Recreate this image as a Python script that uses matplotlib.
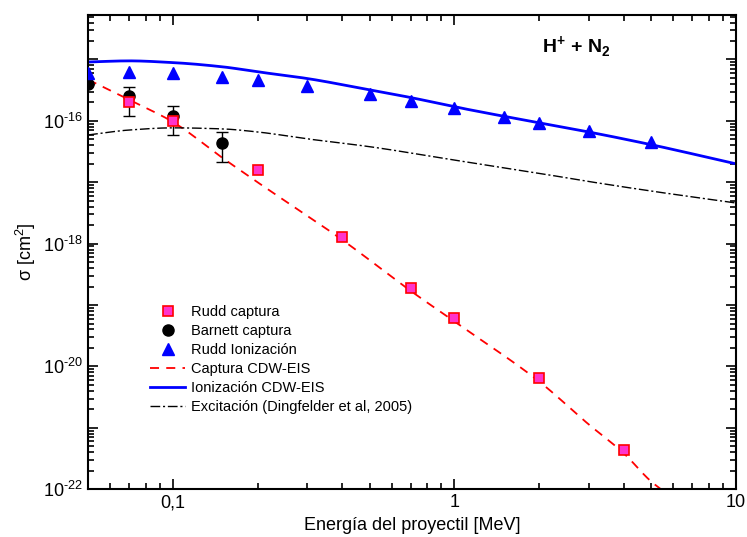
import numpy as np
import matplotlib
matplotlib.use("Agg")
import matplotlib.pyplot as plt
from matplotlib.lines import Line2D
from matplotlib.ticker import FixedLocator, FuncFormatter, LogLocator, NullFormatter

plt.rcParams["font.family"] = ["Liberation Sans", "DejaVu Sans"]
plt.rcParams["mathtext.fontset"] = "custom"
plt.rcParams["mathtext.rm"] = "Liberation Sans"
plt.rcParams["mathtext.bf"] = "Liberation Sans:bold"
plt.rcParams["axes.unicode_minus"] = False

# Rudd captura (squares)
rudd_cap_E = [0.07, 0.1, 0.2, 0.4, 0.7, 1.0, 2.0, 4.0]
rudd_cap_s = [2.0e-16, 1.0e-16, 1.6e-17, 1.28e-18, 1.9e-19, 6.2e-20, 6.6e-21, 4.3e-22]

# Barnett captura (circles, with error bars)
barn_E = [0.05, 0.07, 0.1, 0.15]
barn_s = [4.0e-16, 2.5e-16, 1.2e-16, 4.4e-17]
barn_lo = [4.0e-16, 1.2e-16, 5.9e-17, 2.1e-17]
barn_hi = [4.0e-16, 3.6e-16, 1.76e-16, 6.6e-17]

# Rudd ionizacion (triangles)
rudd_ion_E = [0.05, 0.07, 0.1, 0.15, 0.2, 0.3, 0.5, 0.7, 1.0, 1.5, 2.0, 3.0, 5.0]
rudd_ion_s = [6.0e-16, 6.3e-16, 6.0e-16, 5.2e-16, 4.66e-16, 3.7e-16, 2.76e-16,
              2.12e-16, 1.63e-16, 1.16e-16, 9.3e-17, 6.9e-17, 4.6e-17]

# Captura CDW-EIS
cap_E = [0.05, 0.07, 0.1, 0.15, 0.2, 0.4, 0.7, 1.0, 2.0, 3.0, 4.0, 5.0, 5.5]
cap_s = [4.7e-16, 2.2e-16, 9.6e-17, 2.5e-17, 1.0e-17, 1.15e-18, 1.7e-19,
         5.4e-20, 5.7e-21, 1.14e-21, 3.84e-22, 1.34e-22, 9.5e-23]

# Ionizacion CDW-EIS
ion_E = [0.05, 0.07, 0.1, 0.15, 0.2, 0.3, 0.5, 0.7, 1.0, 2.0, 3.0, 5.0, 10.0]
ion_s = [9.1e-16, 9.5e-16, 8.9e-16, 7.6e-16, 6.3e-16, 4.9e-16, 3.2e-16,
         2.4e-16, 1.7e-16, 9.3e-17, 6.6e-17, 4.1e-17, 2.0e-17]

# Excitacion (Dingfelder et al, 2005)
exc_E = [0.05, 0.07, 0.1, 0.15, 0.2, 0.3, 0.5, 1.0, 2.0, 3.0, 5.0, 10.0]
exc_s = [5.9e-17, 7.1e-17, 7.7e-17, 7.4e-17, 6.6e-17, 5.1e-17, 3.8e-17,
         2.3e-17, 1.4e-17, 1.03e-17, 7.2e-18, 4.6e-18]


def smooth(x, y, n=300):
    # monotone cubic (pchip-style) through the read-off points, log-log space
    lx = np.log10(x)
    ly = np.log10(y)
    h = np.diff(lx)
    m = np.diff(ly) / h
    d = np.zeros_like(lx)
    for k in range(1, len(lx) - 1):
        if m[k - 1] * m[k] > 0:
            w1 = 2 * h[k] + h[k - 1]
            w2 = h[k] + 2 * h[k - 1]
            d[k] = (w1 + w2) / (w1 / m[k - 1] + w2 / m[k])
    d[0] = m[0]
    d[-1] = m[-1]
    xs = np.linspace(lx[0], lx[-1], n)
    out = np.empty_like(xs)
    for i, xv in enumerate(xs):
        k = min(np.searchsorted(lx, xv, side="right") - 1, len(lx) - 2)
        t = (xv - lx[k]) / h[k]
        h00 = 2 * t**3 - 3 * t**2 + 1
        h10 = t**3 - 2 * t**2 + t
        h01 = -2 * t**3 + 3 * t**2
        h11 = t**3 - t**2
        out[i] = h00 * ly[k] + h10 * h[k] * d[k] + h01 * ly[k + 1] + h11 * h[k] * d[k + 1]
    return 10**xs, 10**out


fig, ax = plt.subplots(figsize=(7.47, 5.37), dpi=100)
fig.subplots_adjust(left=0.118, right=0.985, top=0.972, bottom=0.089)

sq_style = dict(marker="s", ms=7, mfc="#ff33cc", mec="red", mew=1.2, ls="none")
ci_style = dict(marker="o", ms=8, color="black", ls="none")
tr_style = dict(marker="^", ms=8, color="blue", ls="none")

ax.plot(rudd_cap_E, rudd_cap_s, zorder=5, **sq_style)
yerr = [np.array(barn_s) - np.array(barn_lo), np.array(barn_hi) - np.array(barn_s)]
ax.errorbar(barn_E, barn_s, yerr=yerr, fmt="none", ecolor="black",
            elinewidth=1, capsize=4, capthick=1, zorder=3)
ax.plot(barn_E, barn_s, zorder=4, **ci_style)
ax.plot(rudd_ion_E, rudd_ion_s, zorder=5, **tr_style)

cap_ls = (0, (5, 4))
exc_ls = (0, (7, 2, 1.5, 2))
x, y = smooth(cap_E, cap_s)
ax.plot(x, y, color="red", ls=cap_ls, lw=1.3)
x, y = smooth(ion_E, ion_s)
ax.plot(x, y, color="blue", lw=2)
x, y = smooth(exc_E, exc_s)
ax.plot(x, y, color="black", ls=exc_ls, lw=1)

ax.set_xscale("log")
ax.set_yscale("log")
ax.set_xlim(0.05, 10)
ax.set_ylim(1e-22, 5.3e-15)

ax.xaxis.set_major_locator(FixedLocator([0.1, 1, 10]))
ax.xaxis.set_major_formatter(FuncFormatter(lambda v, p: {0.1: "0,1", 1: "1", 10: "10"}.get(round(v, 3), "")))
ax.xaxis.set_minor_locator(LogLocator(base=10, subs=np.arange(2, 10)))
ax.xaxis.set_minor_formatter(NullFormatter())

ax.yaxis.set_major_locator(FixedLocator([10.0**k for k in range(-22, -14)]))


def yfmt(v, p):
    e = int(round(np.log10(v)))
    if e % 2 == 0:
        # short hyphen in the exponent, as in the original
        return r"$\mathregular{10^{%s%d}}$" % ("\u2010", abs(e))
    return ""


ax.yaxis.set_major_formatter(FuncFormatter(yfmt))
ax.yaxis.set_minor_locator(LogLocator(base=10, subs=np.arange(2, 10), numticks=20))
ax.yaxis.set_minor_formatter(NullFormatter())

ax.tick_params(which="both", direction="in", top=True, right=True, width=1.2)
ax.tick_params(which="major", length=7, labelsize=13)
ax.tick_params(which="minor", length=4)
for s in ax.spines.values():
    s.set_linewidth(1.5)

ax.set_xlabel("Energía del proyectil [MeV]", fontsize=13)
ax.set_ylabel(r"σ [cm$^\mathregular{2}$]", fontsize=13)

ax.text(0.70, 0.92, r"H$^\mathbf{+}$ + N$_\mathbf{2}$", transform=ax.transAxes,
        fontsize=14, fontweight="bold")

handles = [
    Line2D([], [], **sq_style),
    Line2D([], [], **ci_style),
    Line2D([], [], **tr_style),
    Line2D([], [], color="red", ls=cap_ls, lw=1.3),
    Line2D([], [], color="blue", lw=2),
    Line2D([], [], color="black", ls=exc_ls, lw=1),
]
labels = ["Rudd captura", "Barnett captura", "Rudd Ionización", "Captura CDW-EIS",
          "Ionización CDW-EIS", "Excitación (Dingfelder et al, 2005)"]
ax.legend(handles, labels, loc="lower left", bbox_to_anchor=(0.076, 0.13), frameon=False,
          fontsize=10.5, handlelength=2.4, handletextpad=0.4, labelspacing=0.35)

fig.savefig("out.png", dpi=100)
